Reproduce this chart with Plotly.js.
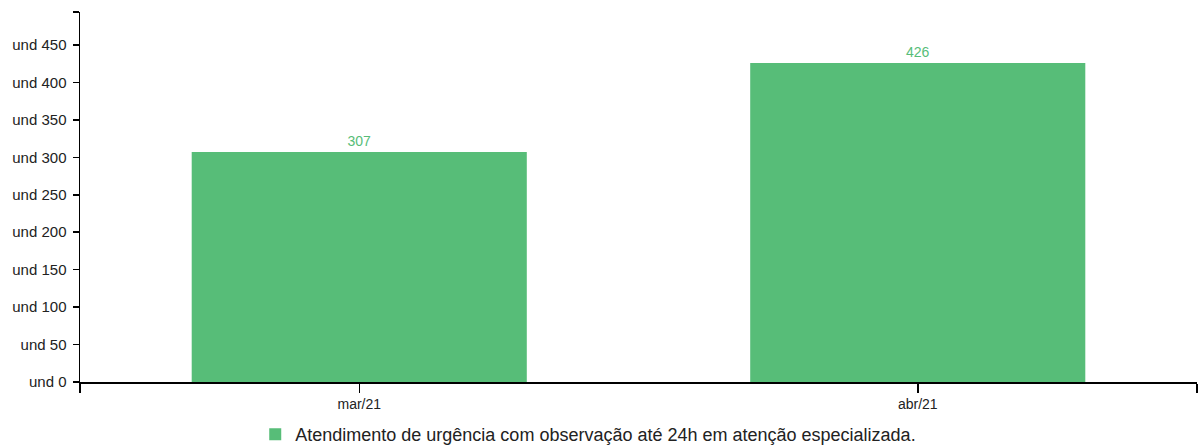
<!DOCTYPE html>
<html><head><meta charset="utf-8">
<script src="https://cdn.plot.ly/plotly-3.0.1.min.js"></script>
<style>html,body{margin:0;padding:0;background:#fff}#c{width:1198px;height:447px}</style>
</head><body><div id="c"></div>
<script>
const categories = ['mar/21', 'abr/21'];
const values = [307, 426];
const seriesName = 'Atendimento de urgência com observação até 24h em atenção especializada.';
const yTicks = [0, 50, 100, 150, 200, 250, 300, 350, 400, 450];
const yTop = 494;
const green = '#57bd78';

const xIdx = categories.map((c, i) => i);
const trace = {
  type: 'bar', x: xIdx, y: values, name: seriesName,
  width: 0.6, marker: {color: green},
  text: values.map(String), textposition: 'outside', cliponaxis: false,
  textfont: {color: green, size: 14, family: 'Liberation Sans, Arial, sans-serif'},
  hoverinfo: 'y', showlegend: true
};
const layout = {
  width: 1198, height: 447,
  margin: {l: 80, r: 1, t: 12, b: 65, autoexpand: false},
  paper_bgcolor: '#fff', plot_bgcolor: '#fff',
  font: {family: 'Liberation Sans, Arial, sans-serif', size: 14, color: '#222'},
  showlegend: true,
  legend: {orientation: 'h', x: 0.455, xanchor: 'center', yref: 'container', y: 0.028, yanchor: 'middle',
           font: {size: 18, color: '#222'}, itemwidth: 30},
  xaxis: {range: [-0.5, 1.5], tickmode: 'array',
          tickvals: [-0.5].concat(xIdx, [1.5]), ticktext: [''].concat(categories, ['']),
          ticks: 'outside', ticklen: 9, tickwidth: 1.5, tickcolor: '#000',
          showline: true, linecolor: '#000', linewidth: 1.5, showgrid: false, zeroline: false,
          tickfont: {size: 14}, fixedrange: true},
  yaxis: {range: [0, yTop], tickmode: 'array',
          tickvals: yTicks.concat([yTop]), ticktext: yTicks.map(v => 'und ' + v).concat(['']),
          ticks: 'outside', ticklen: 6, tickwidth: 1.5, tickcolor: '#000', ticklabelstandoff: 3,
          showline: true, linecolor: '#000', linewidth: 1.5, showgrid: false, zeroline: false,
          tickfont: {size: 15}, fixedrange: true}
};
Plotly.newPlot('c', [trace], layout, {displayModeBar: false, staticPlot: true});
</script></body></html>
